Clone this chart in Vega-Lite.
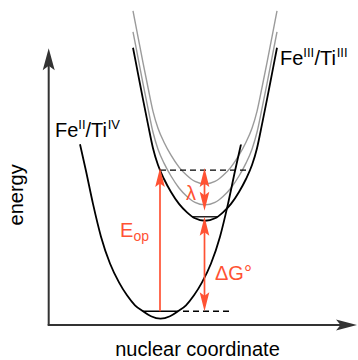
{
  "$schema": "https://vega.github.io/schema/vega-lite/v6.json",
  "width": 358,
  "height": 360,
  "autosize": {"type": "fit", "contains": "padding"},
  "padding": 0,
  "view": {"stroke": null},
  "config": {"font": "Liberation Sans"},
  "datasets": {
    "curves": [
      {"curve": "FeII/TiIV", "x": 80, "E": 215},
      {"curve": "FeII/TiIV", "x": 86, "E": 188},
      {"curve": "FeII/TiIV", "x": 93, "E": 155},
      {"curve": "FeII/TiIV", "x": 101, "E": 122},
      {"curve": "FeII/TiIV", "x": 110, "E": 95},
      {"curve": "FeII/TiIV", "x": 119, "E": 76},
      {"curve": "FeII/TiIV", "x": 127, "E": 63},
      {"curve": "FeII/TiIV", "x": 135, "E": 53},
      {"curve": "FeII/TiIV", "x": 143, "E": 47},
      {"curve": "FeII/TiIV", "x": 151, "E": 42},
      {"curve": "FeII/TiIV", "x": 160.5, "E": 39.5},
      {"curve": "FeII/TiIV", "x": 170, "E": 42},
      {"curve": "FeII/TiIV", "x": 178, "E": 47},
      {"curve": "FeII/TiIV", "x": 186, "E": 53},
      {"curve": "FeII/TiIV", "x": 194, "E": 63},
      {"curve": "FeII/TiIV", "x": 202, "E": 76},
      {"curve": "FeII/TiIV", "x": 211, "E": 95},
      {"curve": "FeII/TiIV", "x": 220, "E": 122},
      {"curve": "FeII/TiIV", "x": 228, "E": 155},
      {"curve": "FeII/TiIV", "x": 235, "E": 188},
      {"curve": "FeII/TiIV", "x": 241, "E": 215},

      {"curve": "FeIII/TiIII", "x": 133, "E": 312},
      {"curve": "FeIII/TiIII", "x": 138, "E": 286},
      {"curve": "FeIII/TiIII", "x": 143, "E": 260},
      {"curve": "FeIII/TiIII", "x": 148, "E": 235},
      {"curve": "FeIII/TiIII", "x": 153, "E": 211},
      {"curve": "FeIII/TiIII", "x": 158, "E": 194},
      {"curve": "FeIII/TiIII", "x": 164, "E": 180},
      {"curve": "FeIII/TiIII", "x": 171, "E": 167},
      {"curve": "FeIII/TiIII", "x": 179, "E": 155},
      {"curve": "FeIII/TiIII", "x": 187, "E": 146.5},
      {"curve": "FeIII/TiIII", "x": 195, "E": 140.5},
      {"curve": "FeIII/TiIII", "x": 205, "E": 138},
      {"curve": "FeIII/TiIII", "x": 215, "E": 140.5},
      {"curve": "FeIII/TiIII", "x": 223, "E": 146.5},
      {"curve": "FeIII/TiIII", "x": 231, "E": 155},
      {"curve": "FeIII/TiIII", "x": 239, "E": 167},
      {"curve": "FeIII/TiIII", "x": 246, "E": 180},
      {"curve": "FeIII/TiIII", "x": 252, "E": 194},
      {"curve": "FeIII/TiIII", "x": 257, "E": 211},
      {"curve": "FeIII/TiIII", "x": 262, "E": 235},
      {"curve": "FeIII/TiIII", "x": 267, "E": 260},
      {"curve": "FeIII/TiIII", "x": 272, "E": 286},
      {"curve": "FeIII/TiIII", "x": 277, "E": 312},

      {"curve": "upper1", "x": 133, "E": 328},
      {"curve": "upper1", "x": 138, "E": 302},
      {"curve": "upper1", "x": 143, "E": 276},
      {"curve": "upper1", "x": 148, "E": 251},
      {"curve": "upper1", "x": 153, "E": 227},
      {"curve": "upper1", "x": 158, "E": 210},
      {"curve": "upper1", "x": 164, "E": 196},
      {"curve": "upper1", "x": 171, "E": 183},
      {"curve": "upper1", "x": 179, "E": 171},
      {"curve": "upper1", "x": 187, "E": 162.5},
      {"curve": "upper1", "x": 195, "E": 156.5},
      {"curve": "upper1", "x": 205, "E": 154},
      {"curve": "upper1", "x": 215, "E": 156.5},
      {"curve": "upper1", "x": 223, "E": 162.5},
      {"curve": "upper1", "x": 231, "E": 171},
      {"curve": "upper1", "x": 239, "E": 183},
      {"curve": "upper1", "x": 246, "E": 196},
      {"curve": "upper1", "x": 252, "E": 210},
      {"curve": "upper1", "x": 257, "E": 227},
      {"curve": "upper1", "x": 262, "E": 251},
      {"curve": "upper1", "x": 267, "E": 276},
      {"curve": "upper1", "x": 272, "E": 302},
      {"curve": "upper1", "x": 277, "E": 328},

      {"curve": "upper2", "x": 133, "E": 349},
      {"curve": "upper2", "x": 138, "E": 323},
      {"curve": "upper2", "x": 143, "E": 297},
      {"curve": "upper2", "x": 148, "E": 272},
      {"curve": "upper2", "x": 153, "E": 248},
      {"curve": "upper2", "x": 158, "E": 231},
      {"curve": "upper2", "x": 164, "E": 217},
      {"curve": "upper2", "x": 171, "E": 204},
      {"curve": "upper2", "x": 179, "E": 192},
      {"curve": "upper2", "x": 187, "E": 183.5},
      {"curve": "upper2", "x": 195, "E": 177.5},
      {"curve": "upper2", "x": 205, "E": 175},
      {"curve": "upper2", "x": 215, "E": 177.5},
      {"curve": "upper2", "x": 223, "E": 183.5},
      {"curve": "upper2", "x": 231, "E": 192},
      {"curve": "upper2", "x": 239, "E": 204},
      {"curve": "upper2", "x": 246, "E": 217},
      {"curve": "upper2", "x": 252, "E": 231},
      {"curve": "upper2", "x": 257, "E": 248},
      {"curve": "upper2", "x": 262, "E": 272},
      {"curve": "upper2", "x": 267, "E": 297},
      {"curve": "upper2", "x": 272, "E": 323},
      {"curve": "upper2", "x": 277, "E": 349}
    ],
    "levels": [
      {"level": "FeII/TiIV v=0", "x": 143, "x2": 178, "E": 47},
      {"level": "FeIII/TiIII v=0", "x": 193, "x2": 217, "E": 142}
    ],
    "guides": [
      {"guide": "Eop top", "x": 160, "x2": 248, "E": 189},
      {"guide": "ground", "x": 183, "x2": 231, "E": 47}
    ],
    "axes": [
      {"axis": "energy", "x": 48.7, "x2": 48.7, "E": 33, "E2": 300},
      {"axis": "nuclear coordinate", "x": 47.7, "x2": 345, "E": 33.3, "E2": 33.3}
    ],
    "axisHeads": [
      {"axis": "energy", "dir": "up", "x": 48.7, "E": 311.5},
      {"axis": "nuclear coordinate", "dir": "right", "x": 357, "E": 33.3}
    ],
    "arrows": [
      {"arrow": "Eop", "x": 160, "E": 47, "E2": 178},
      {"arrow": "lambda", "x": 204.5, "E": 178, "E2": 155},
      {"arrow": "dG", "x": 204.5, "E": 130, "E2": 58}
    ],
    "arrowHeads": [
      {"arrow": "Eop", "dir": "up", "x": 160, "E": 191},
      {"arrow": "lambda", "dir": "up", "x": 204.5, "E": 191},
      {"arrow": "lambda", "dir": "down", "x": 204.5, "E": 148},
      {"arrow": "dG", "dir": "up", "x": 204.5, "E": 142},
      {"arrow": "dG", "dir": "down", "x": 204.5, "E": 47}
    ],
    "mainText": [
      {"t": "Fe", "x": 55, "E": 222},
      {"t": "/Ti", "x": 85.5, "E": 222},
      {"t": "Fe", "x": 280, "E": 295},
      {"t": "/Ti", "x": 314.5, "E": 295}
    ],
    "supText": [
      {"t": "II", "x": 78.3, "E": 230},
      {"t": "IV", "x": 107.7, "E": 230},
      {"t": "III", "x": 303.3, "E": 303},
      {"t": "III", "x": 336.7, "E": 303}
    ],
    "redText": [
      {"t": "E", "x": 120, "E": 122},
      {"t": "ΔG°", "x": 215, "E": 78}
    ],
    "redSub": [
      {"t": "op", "x": 133.5, "E": 118}
    ],
    "lambdaText": [
      {"t": "λ", "x": 191, "E": 159}
    ],
    "axisTitles": [
      {"t": "nuclear coordinate", "x": 197.5, "E": 2.5}
    ],
    "yTitle": [
      {"t": "energy", "x": 23, "E": 164}
    ]
  },
  "encoding": {
    "x": {"field": "x", "type": "quantitative", "scale": {"domain": [0, 358], "nice": false, "zero": false}, "axis": null},
    "y": {"field": "E", "type": "quantitative", "scale": {"domain": [0, 360], "nice": false, "zero": false}, "axis": null}
  },
  "layer": [
    {
      "data": {"name": "curves"},
      "transform": [{"filter": "datum.curve === 'upper1' || datum.curve === 'upper2'"}],
      "mark": {"type": "line", "color": "#9b9b9b", "strokeWidth": 1.4, "interpolate": "monotone"},
      "encoding": {"detail": {"field": "curve"}}
    },
    {
      "data": {"name": "curves"},
      "transform": [{"filter": "datum.curve === 'FeII/TiIV' || datum.curve === 'FeIII/TiIII'"}],
      "mark": {"type": "line", "color": "#000000", "strokeWidth": 1.8, "interpolate": "monotone"},
      "encoding": {"detail": {"field": "curve"}}
    },
    {
      "data": {"name": "levels"},
      "mark": {"type": "rule", "color": "#000000", "strokeWidth": 1.3},
      "encoding": {"x2": {"field": "x2"}}
    },
    {
      "data": {"name": "guides"},
      "mark": {"type": "rule", "color": "#000000", "strokeWidth": 1.3, "strokeDash": [6, 4]},
      "encoding": {"x2": {"field": "x2"}}
    },
    {
      "data": {"name": "axes"},
      "mark": {"type": "rule", "color": "#333333", "strokeWidth": 2},
      "encoding": {"x2": {"field": "x2"}, "y2": {"field": "E2"}}
    },
    {
      "data": {"name": "axisHeads"},
      "mark": {"type": "point", "filled": true, "color": "#333333", "opacity": 1, "size": 4, "strokeWidth": 0},
      "encoding": {
        "shape": {"field": "dir", "type": "nominal", "legend": null,
          "scale": {"domain": ["up", "right"], "range": ["M0,0L6,22L0,17.5L-6,22Z", "M0,0L-21,5.5L-16.5,0L-21,-5.5Z"]}}
      }
    },
    {
      "data": {"name": "arrows"},
      "mark": {"type": "rule", "color": "#ff5233", "strokeWidth": 1.7},
      "encoding": {"y2": {"field": "E2"}}
    },
    {
      "data": {"name": "arrowHeads"},
      "mark": {"type": "point", "filled": true, "color": "#ff5233", "opacity": 1, "size": 4, "strokeWidth": 0},
      "encoding": {
        "shape": {"field": "dir", "type": "nominal", "legend": null,
          "scale": {"domain": ["up", "down"], "range": ["M0,0L4.8,19L0,15.5L-4.8,19Z", "M0,0L4.8,-19L0,-15.5L-4.8,-19Z"]}}
      }
    },
    {
      "data": {"name": "mainText"},
      "mark": {"type": "text", "align": "left", "baseline": "alphabetic", "fontSize": 20, "color": "#000000"},
      "encoding": {"text": {"field": "t"}}
    },
    {
      "data": {"name": "supText"},
      "mark": {"type": "text", "align": "left", "baseline": "alphabetic", "fontSize": 13, "color": "#000000"},
      "encoding": {"text": {"field": "t"}}
    },
    {
      "data": {"name": "redText"},
      "mark": {"type": "text", "align": "left", "baseline": "alphabetic", "fontSize": 20, "color": "#ff5233"},
      "encoding": {"text": {"field": "t"}}
    },
    {
      "data": {"name": "redSub"},
      "mark": {"type": "text", "align": "left", "baseline": "alphabetic", "fontSize": 14, "color": "#ff5233"},
      "encoding": {"text": {"field": "t"}}
    },
    {
      "data": {"name": "lambdaText"},
      "mark": {"type": "text", "align": "center", "baseline": "alphabetic", "fontSize": 20, "color": "#ff5233"},
      "encoding": {"text": {"field": "t"}}
    },
    {
      "data": {"name": "axisTitles"},
      "mark": {"type": "text", "align": "center", "baseline": "alphabetic", "fontSize": 20, "color": "#000000"},
      "encoding": {"text": {"field": "t"}}
    },
    {
      "data": {"name": "yTitle"},
      "mark": {"type": "text", "align": "center", "baseline": "alphabetic", "fontSize": 20, "angle": 270, "color": "#000000"},
      "encoding": {"text": {"field": "t"}}
    }
  ],
  "resolve": {"scale": {"shape": "independent"}}
}
